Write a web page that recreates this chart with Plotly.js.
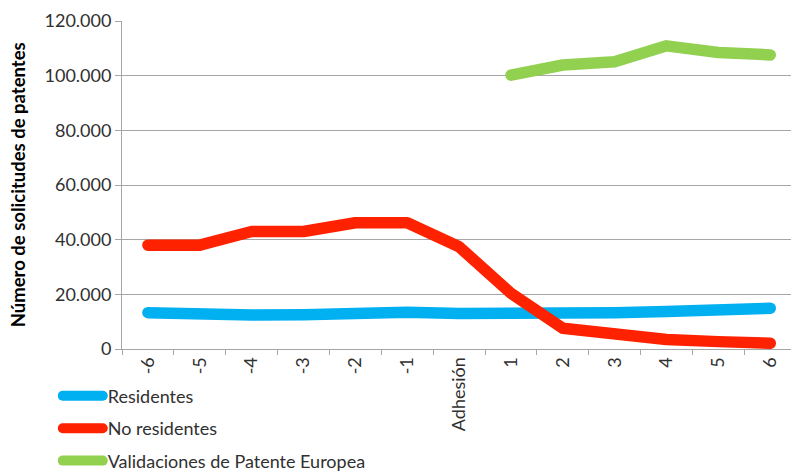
<!DOCTYPE html>
<html>
<head>
<meta charset="utf-8">
<script src="https://cdn.plot.ly/plotly-3.0.1.min.js"></script>
<style>
  html, body { margin: 0; padding: 0; background: #ffffff; }
  #chart { width: 791px; height: 472px; }
  /* rounded ends and joins on the thick series lines */
  #chart .js-line, #chart .legendlines path {
    stroke-linecap: round !important;
    stroke-linejoin: round !important;
  }
</style>
</head>
<body>
<div id="chart"></div>
<script>
// Years relative to accession
const categories = ['-6', '-5', '-4', '-3', '-2', '-1', 'Adhesión', '1', '2', '3', '4', '5', '6'];

// Patent applications per series
const residentes = [13300, 12400, 12400, 12500, 13200, 13400, 13000, 13000, 12400, 13300, 13700, 14500, 14900];
const noResidentes = [38000, 38000, 43000, 43000, 46200, 46200, 37400, 20400, 7600, 5100, 3500, 2700, 2100];
const validaciones = [null, null, null, null, null, null, null, 100200, 103900, 105100, 110900, 108500, 107600];

const seriesNames = ['Residentes', 'No residentes', 'Validaciones de Patente Europea'];
const yTicks = [0, 20000, 40000, 60000, 80000, 100000, 120000];
const yTitle = 'Número de solicitudes de patentes';

const FONT = 'Lato, "Open Sans", sans-serif';
const GRID = '#a6a6a6';

function lineTrace(name, values, color) {
  return {
    type: 'scatter',
    mode: 'lines',
    name: name,
    x: categories,
    y: values,
    connectgaps: false,
    line: { color: color, width: 11.5, shape: 'linear' },
    hoverinfo: 'skip'
  };
}

const data = [
  lineTrace(seriesNames[0], residentes, '#00b0f0'),
  lineTrace(seriesNames[1], noResidentes, '#ff2200'),
  lineTrace(seriesNames[2], validaciones, '#92d050')
];

const layout = {
  width: 791,
  height: 472,
  margin: { l: 122, r: 0, t: 21, b: 123, pad: 0, autoexpand: false },
  paper_bgcolor: '#ffffff',
  plot_bgcolor: '#ffffff',
  separators: ',.',
  font: { family: FONT, size: 16, color: '#404040' },
  showlegend: true,
  legend: {
    xref: 'container', yref: 'container',
    x: 0.073, y: 0.2,
    xanchor: 'left', yanchor: 'top',
    orientation: 'v',
    bgcolor: 'rgba(0,0,0,0)',
    font: { family: FONT, size: 18, color: '#303030' },
    tracegroupgap: 6,
    itemwidth: 40
  },
  xaxis: {
    type: 'category',
    range: [-0.5, 12.4],
    tickangle: -90,
    tickson: 'boundaries',
    ticks: 'outside',
    ticklen: 5,
    tickcolor: GRID,
    showline: true,
    linecolor: GRID,
    linewidth: 1,
    showgrid: false,
    zeroline: false,
    automargin: false,
    tickfont: { family: FONT, size: 18, color: '#303030' },
    fixedrange: true
  },
  yaxis: {
    range: [0, 120000],
    tickvals: yTicks,
    tickformat: ',d',
    ticks: 'outside',
    ticklen: 6,
    tickcolor: GRID,
    showline: true,
    linecolor: GRID,
    linewidth: 1,
    showgrid: true,
    gridcolor: GRID,
    gridwidth: 1,
    zeroline: false,
    automargin: false,
    tickfont: { family: FONT, size: 18, color: '#303030' },
    fixedrange: true
  },
  annotations: [{
    text: '<b>' + yTitle + '</b>',
    xref: 'paper', yref: 'paper',
    x: -0.155, y: 0.5,
    xanchor: 'center', yanchor: 'middle',
    textangle: -90,
    showarrow: false,
    font: { family: FONT, size: 18.5, color: '#000000' }
  }]
};

data.forEach((t, i) => { t.legendgroup = 'g' + i; });

Plotly.newPlot('chart', data, layout, { displayModeBar: false, staticPlot: true });
</script>
</body>
</html>
